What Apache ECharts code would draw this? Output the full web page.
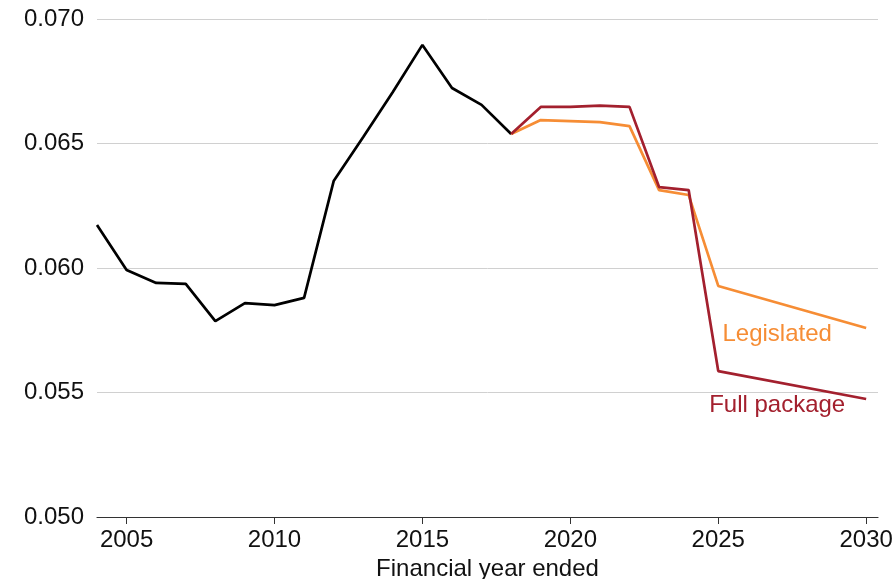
<!DOCTYPE html>
<html>
<head>
<meta charset="utf-8">
<script src="https://cdn.jsdelivr.net/npm/echarts@6/dist/echarts.min.js"></script>
<style>
html,body{margin:0;padding:0;background:#fff;}
#chart{width:896px;height:579px;}
</style>
</head>
<body>
<div id="chart"></div>
<script>
// Historical (black)
var histYears = [2004,2005,2006,2007,2008,2009,2010,2011,2012,2013,2014,2015,2016,2017,2018];
var histValues = [0.06173,0.05992,0.05940,0.05936,0.05787,0.05859,0.05851,0.05880,0.06349,0.06526,0.06707,0.06896,0.06723,0.06655,0.06538];
// Projections
var projYears = [2018,2019,2020,2021,2022,2023,2024,2025,2030];
var legislatedValues = [0.06538,0.06594,0.06590,0.06586,0.06570,0.06313,0.06293,0.05928,0.05759];
var fullPackageValues = [0.06538,0.06647,0.06647,0.06652,0.06647,0.06325,0.06313,0.05586,0.05474];
var xTickLabels = [2005,2010,2015,2020,2025,2030];
var yTicks = [0.050,0.055,0.060,0.065,0.070];

function pairs(xs, ys){ return xs.map(function(x,i){ return [x, ys[i]]; }); }

var FONT = '"Liberation Sans", Arial, Helvetica, sans-serif';
var chart = echarts.init(document.getElementById('chart'));
chart.setOption({
  animation: false,
  backgroundColor: '#fff',
  grid: {left: 97, right: 18, top: 19, bottom: 62, containLabel: false, outerBoundsMode: 'none'},
  xAxis: {
    type: 'value',
    min: 2004, max: 2030.4,
    name: 'Financial year ended',
    nameLocation: 'middle',
    nameGap: 40,
    nameTextStyle: {fontFamily: FONT, fontSize: 24, color: '#111'},
    axisLine: {show: true, lineStyle: {color: '#333', width: 1.2}},
    axisTick: {show: true, length: 7, lineStyle: {color: '#333'}, customValues: xTickLabels},
    axisLabel: {fontFamily: FONT, fontSize: 24, color: '#111', margin: 11, customValues: xTickLabels,
      formatter: function(v){ return String(v); }},
    splitLine: {show: false}
  },
  yAxis: {
    type: 'value',
    min: yTicks[0], max: yTicks[yTicks.length-1], interval: 0.005,
    axisLine: {show: false},
    axisTick: {show: false},
    axisLabel: {fontFamily: FONT, fontSize: 24, color: '#111', margin: 13,
      formatter: function(v){ return v.toFixed(3); }},
    splitLine: {show: true, lineStyle: {color: '#d0d0d0', width: 1}}
  },
  series: [
    {
      type: 'line', name: 'Historical', data: pairs(histYears, histValues),
      showSymbol: false, symbol: 'none',
      lineStyle: {color: '#000', width: 2.7}, z: 3
    },
    {
      type: 'line', name: 'Legislated', data: pairs(projYears, legislatedValues),
      showSymbol: false, symbol: 'none',
      lineStyle: {color: '#f68d35', width: 2.7}, z: 4,
      endLabel: {show: true, formatter: 'Legislated', color: '#f68d35', fontFamily: FONT, fontSize: 24,
        align: 'center', verticalAlign: 'middle', distance: 0, offset: [-89, 6]}
    },
    {
      type: 'line', name: 'Full package', data: pairs(projYears, fullPackageValues),
      showSymbol: false, symbol: 'none',
      lineStyle: {color: '#a3202e', width: 2.7}, z: 5,
      endLabel: {show: true, formatter: 'Full package', color: '#a3202e', fontFamily: FONT, fontSize: 24,
        align: 'center', verticalAlign: 'middle', distance: 0, offset: [-89, 6]}
    }
  ]
});
</script>
</body>
</html>
